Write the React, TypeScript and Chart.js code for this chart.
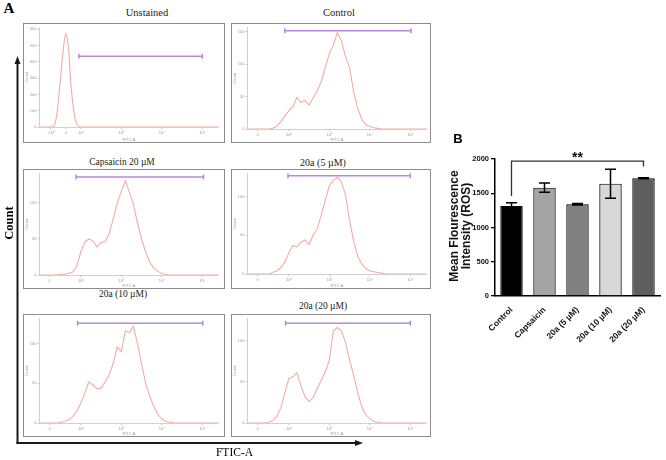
import React, { useEffect, useRef } from "react";
import { Chart, registerables } from "chart.js";

Chart.register(...registerables);

// ---------- Panel A: flow cytometry histograms (x in display decades) ----------
const histU = [1.0, 1.1, 1.2, 1.3, 1.4, 1.5, 1.6, 1.7, 1.8, 1.9, 2.0, 2.1, 2.2, 2.3, 2.4, 2.5, 2.6, 2.7, 2.8, 2.9, 3.0, 3.1, 3.2, 3.3, 3.4, 3.5, 3.6, 3.7, 3.8, 3.9, 4.0, 4.1, 4.2, 4.3, 4.4, 4.5, 4.6, 4.7, 4.8, 4.9, 5.0, 5.1, 5.2, 5.3, 5.4];

const unstainedU = [1.0, 1.1, 1.2, 1.3, 1.35, 1.4, 1.45, 1.5, 1.55, 1.6, 1.63, 1.66, 1.7, 1.75, 1.8, 1.85, 1.9, 1.95, 2.0, 2.2, 2.5, 3.0, 3.5, 4.0, 4.5, 5.0, 5.4];
const unstainedCounts = [0, 0, 0, 2, 8, 60, 170, 300, 440, 545, 572, 555, 480, 270, 150, 60, 18, 4, 1, 0, 0, 0, 0, 0, 0, 0, 0];

const controlCounts = [0, 0, 0, 0, 0, 0, 1, 4, 11, 20, 28, 34, 49, 41, 44, 37, 48, 59, 73, 95, 116, 130, 149, 136, 112, 95, 58, 32, 15, 7, 4, 2, 1, 0, 0, 0, 0, 0, 0, 0, 0, 0, 0, 0, 0];
const capsaicinCounts = [0, 0, 0, 0, 0, 1, 1, 2, 4, 12, 32, 46, 50, 47, 39, 45, 46, 57, 78, 100, 116, 131, 115, 98, 72, 50, 32, 18, 10, 5, 2, 1, 0, 0, 0, 0, 0, 0, 0, 0, 0, 0, 0, 0, 0];
const dose5Counts = [0, 0, 0, 0, 0, 0, 2, 4, 8, 15, 27, 37, 35, 41, 44, 38, 50, 58, 76, 95, 114, 121, 125, 119, 102, 70, 43, 23, 13, 7, 4, 3, 2, 1, 0, 0, 0, 0, 0, 0, 0, 0, 0, 0, 0];
const dose10Counts = [0, 0, 0, 0, 0, 1, 2, 4, 8, 15, 25, 38, 52, 48, 43, 44, 52, 61, 75, 96, 90, 116, 114, 122, 100, 75, 50, 34, 21, 11, 5, 2, 1, 0, 0, 0, 0, 0, 0, 0, 0, 0, 0, 0, 0];
const dose20Counts = [0, 0, 0, 0, 0, 1, 3, 8, 18, 36, 54, 56, 61, 45, 32, 26, 31, 42, 52, 62, 76, 112, 116, 112, 98, 77, 58, 37, 20, 10, 5, 2, 1, 0, 0, 0, 0, 0, 0, 0, 0, 0, 0, 0, 0];

const panelTitles = ["Unstained", "Control", "Capsaicin 20 µM", "20a (5 µM)", "20a (10 µM)", "20a (20 µM)"];
const panelYMax = [612, 157, 141, 130, 132, 127];
const panelYStep = [100, 50, 50, 50, 50, 50];
const gateStart = [1.95, 1.9, 1.88, 1.98, 1.92, 1.92];
const gateEnd = [5.0, 5.02, 5.03, 5.0, 5.01, 5.0];
const gateLevel = [434, 152, 136, 127, 126, 121];

const stainedTickPos = [1.23, 2, 3, 4, 5];
const stainedTickLabels = ["0", "10²", "10³", "10⁴", "10⁵"];
const unstainedTickPos = [1.26, 1.63, 2, 3, 4, 5];
const unstainedTickLabels = ["-10²", "0", "10²", "10³", "10⁴", "10⁵"];

// ---------- Panel B: bar chart ----------
const barLabels = ["Control", "Capsaicin", "20a (5 µM)", "20a (10 µM)", "20a (20 µM)"];
const barMeans = [1315, 1582, 1340, 1640, 1720];
const barErrors = [45, 66, 12, 212, 8];
const bracketFrom = 0;
const bracketTo = 4;
const bracketTop = 1970;
const bracketLegLeft = 1460;
const bracketLegRight = 1890;

// ---------- layout / style ----------
const SERIF = "'Liberation Serif', 'Times New Roman', serif";
const SANS = "'Liberation Sans', Arial, sans-serif";
const LINE_COLOR = "#f5aca1";
const GATE_COLOR = "#b58ad9";
const barColors = ["#000000", "#a4a4a4", "#808080", "#d8d8d8", "#5e5e5e"];

type PanelCfg = {
  title: string;
  u: number[];
  counts: number[];
  yMax: number;
  yStep: number;
  gate: [number, number, number];
  tickPos: number[];
  tickLabels: string[];
  box: [number, number, number, number];
  axisH: number;
  titleAt: [number, number];
  titleSize: number;
};

const boxes: [number, number, number, number][] = [
  [23, 23, 202, 120],
  [231, 23, 200, 120],
  [23, 169, 202, 120],
  [231, 169, 200, 120],
  [23, 314, 202, 123],
  [231, 314, 200, 123],
];
const axisHeights = [15, 13, 13, 14, 13, 13];
const titlePositions: [number, number][] = [
  [147, 13],
  [339, 12.5],
  [122, 162.5],
  [323, 163],
  [123, 295],
  [323, 307],
];
const titleSizes = [10.5, 10.5, 9.5, 10, 9.5, 9.5];
const seriesList = [unstainedCounts, controlCounts, capsaicinCounts, dose5Counts, dose10Counts, dose20Counts];

const panels: PanelCfg[] = panelTitles.map((t, i) => ({
  title: t,
  u: i === 0 ? unstainedU : histU,
  counts: seriesList[i],
  yMax: panelYMax[i],
  yStep: panelYStep[i],
  gate: [gateStart[i], gateEnd[i], gateLevel[i]],
  tickPos: i === 0 ? unstainedTickPos : stainedTickPos,
  tickLabels: i === 0 ? unstainedTickLabels : stainedTickLabels,
  box: boxes[i],
  axisH: axisHeights[i],
  titleAt: titlePositions[i],
  titleSize: titleSizes[i],
}));

function Histogram({ cfg }: { cfg: PanelCfg }) {
  const ref = useRef<HTMLCanvasElement>(null);
  const [bx, by, bw, bh] = cfg.box;
  const cw = bw - 2;
  const ch = bh - 2;
  useEffect(() => {
    const canvas = ref.current!;
    const gatePlugin = {
      id: "gate",
      afterDatasetsDraw(chart: any) {
        const { ctx } = chart;
        const xs = chart.scales.x;
        const ys = chart.scales.y;
        const x0 = xs.getPixelForValue(cfg.gate[0]);
        const x1 = xs.getPixelForValue(cfg.gate[1]);
        const yy = ys.getPixelForValue(cfg.gate[2]);
        ctx.save();
        ctx.strokeStyle = GATE_COLOR;
        ctx.lineWidth = 1.5;
        ctx.beginPath();
        ctx.moveTo(x0, yy);
        ctx.lineTo(x1, yy);
        ctx.moveTo(x0, yy - 2.5);
        ctx.lineTo(x0, yy + 2.5);
        ctx.moveTo(x1, yy - 2.5);
        ctx.lineTo(x1, yy + 2.5);
        ctx.stroke();
        ctx.restore();
      },
    };
    const tickFont = { size: 4, family: SANS };
    const chart = new Chart(canvas, {
      type: "line",
      data: {
        datasets: [
          {
            data: cfg.u.map((u, i) => ({ x: u, y: cfg.counts[i] })),
            borderColor: LINE_COLOR,
            borderWidth: 1.1,
            pointRadius: 0,
            tension: 0,
            fill: false,
          },
        ],
      },
      options: {
        animation: false,
        responsive: false,
        maintainAspectRatio: false,
        events: [],
        layout: { padding: { top: 2, right: cw - 15.5 - 179, left: 0, bottom: 0 } },
        plugins: { legend: { display: false }, tooltip: { enabled: false } },
        scales: {
          x: {
            type: "linear",
            min: 0.98,
            max: 5.4,
            afterBuildTicks: (axis: any) => {
              axis.ticks = cfg.tickPos.map((v) => ({ value: v }));
            },
            afterFit: (axis: any) => {
              axis.height = cfg.axisH;
            },
            ticks: {
              autoSkip: false,
              maxRotation: 0,
              font: tickFont,
              color: "#9a9a9a",
              padding: 1,
              callback: (v: any) => {
                const k = cfg.tickPos.indexOf(Number(v));
                return k >= 0 ? cfg.tickLabels[k] : "";
              },
            },
            grid: { drawOnChartArea: false, tickLength: 2, color: "#c8c8c8" },
            border: { color: "#d0d0d0" },
            title: { display: true, text: "FITC-A", font: tickFont, color: "#9a9a9a", padding: 0 },
          },
          y: {
            min: 0,
            max: cfg.yMax,
            afterFit: (axis: any) => {
              axis.width = 15.5;
            },
            ticks: { stepSize: cfg.yStep, includeBounds: false, font: tickFont, color: "#9a9a9a", padding: 1, callback: (v: any) => String(v) },
            grid: { drawOnChartArea: false, tickLength: 2, color: "#c8c8c8" },
            border: { color: "#d0d0d0" },
            title: { display: true, text: "Count", font: tickFont, color: "#9a9a9a", padding: 0 },
          },
        },
      } as any,
      plugins: [gatePlugin],
    });
    return () => chart.destroy();
  }, []);
  return (
    <>
      <div
        style={{
          position: "absolute",
          left: cfg.titleAt[0],
          top: cfg.titleAt[1],
          transform: "translate(-50%, -50%)",
          fontFamily: SERIF,
          fontSize: cfg.titleSize,
          lineHeight: 1,
          whiteSpace: "nowrap",
          color: "#222",
        }}
      >
        {cfg.title}
      </div>
      <div
        style={{
          position: "absolute",
          left: bx,
          top: by,
          width: bw,
          height: bh,
          boxSizing: "border-box",
          border: "1px solid #8c8c8c",
          background: "#fff",
        }}
      >
        <canvas ref={ref} width={cw} height={ch} style={{ position: "absolute", left: 0, top: 0, width: cw, height: ch }} />
      </div>
    </>
  );
}

function BarPanel() {
  const ref = useRef<HTMLCanvasElement>(null);
  useEffect(() => {
    const canvas = ref.current!;
    const errPlugin = {
      id: "errbars",
      afterDatasetsDraw(chart: any) {
        const { ctx } = chart;
        const ys = chart.scales.y;
        const meta = chart.getDatasetMeta(0);
        ctx.save();
        ctx.strokeStyle = "#000";
        ctx.lineWidth = 1.5;
        meta.data.forEach((el: any, i: number) => {
          const x = el.x;
          const t = ys.getPixelForValue(barMeans[i] + barErrors[i]);
          const b = ys.getPixelForValue(barMeans[i] - barErrors[i]);
          ctx.beginPath();
          ctx.moveTo(x, t);
          ctx.lineTo(x, b);
          ctx.moveTo(x - 5.5, t);
          ctx.lineTo(x + 5.5, t);
          ctx.moveTo(x - 5.5, b);
          ctx.lineTo(x + 5.5, b);
          ctx.stroke();
        });
        ctx.restore();
      },
    };
    const bracketPlugin = {
      id: "bracket",
      afterDraw(chart: any) {
        const { ctx } = chart;
        const xs = chart.scales.x;
        const ys = chart.scales.y;
        const xa = xs.getPixelForValue(bracketFrom);
        const xb = xs.getPixelForValue(bracketTo);
        const yt = ys.getPixelForValue(bracketTop);
        ctx.save();
        ctx.strokeStyle = "#333";
        ctx.lineWidth = 1.3;
        ctx.beginPath();
        ctx.moveTo(xa, ys.getPixelForValue(bracketLegLeft));
        ctx.lineTo(xa, yt);
        ctx.lineTo(xb, yt);
        ctx.lineTo(xb, ys.getPixelForValue(bracketLegRight));
        ctx.stroke();
        ctx.fillStyle = "#111";
        ctx.font = `bold 14px ${SANS}`;
        ctx.textAlign = "center";
        ctx.textBaseline = "alphabetic";
        ctx.fillText("**", (xa + xb) / 2, yt + 0.5);
        ctx.restore();
      },
    };
    const chart = new Chart(canvas, {
      type: "bar",
      data: {
        labels: barLabels,
        datasets: [
          {
            data: barMeans,
            backgroundColor: barColors,
            borderColor: "#000",
            borderWidth: 1.2,
            categoryPercentage: 1,
            barPercentage: 0.68,
          },
        ],
      },
      options: {
        animation: false,
        responsive: false,
        maintainAspectRatio: false,
        events: [],
        layout: { padding: { top: 49, right: 6, left: 0, bottom: 0 } },
        plugins: { legend: { display: false }, tooltip: { enabled: false } },
        scales: {
          x: {
            afterFit: (axis: any) => {
              axis.height = 64;
            },
            ticks: {
              autoSkip: false,
              minRotation: 45,
              maxRotation: 45,
              padding: 1,
              color: "#111",
              font: { family: SANS, weight: "bold", size: 8.5 },
            },
            grid: { display: false },
            border: { color: "#000", width: 1.5 },
          },
          y: {
            min: 0,
            max: 2000,
            afterFit: (axis: any) => {
              axis.width = 55;
            },
            ticks: { stepSize: 500, padding: 2, color: "#111", font: { family: SANS, weight: "bold", size: 7.5 }, callback: (v: any) => String(v) },
            grid: { drawOnChartArea: false, tickLength: 4, color: "#000", lineWidth: 1.3 },
            border: { color: "#000", width: 1.5 },
          },
        },
      } as any,
      plugins: [errPlugin, bracketPlugin],
    });
    return () => chart.destroy();
  }, []);
  return (
    <>
      <canvas ref={ref} width={226} height={250} style={{ position: "absolute", left: 440, top: 110, width: 226, height: 250 }} />
      <div style={{ position: "absolute", left: 458, top: 138, transform: "translate(-50%, -50%)", fontFamily: SANS, fontWeight: "bold", fontSize: 13, lineHeight: 1 }}>B</div>
      <div style={{ position: "absolute", left: 453.5, top: 226, transform: "translate(-50%, -50%) rotate(-90deg)", fontFamily: SANS, fontWeight: "bold", fontSize: 12, lineHeight: 1, whiteSpace: "nowrap", color: "#111" }}>
        Mean Flourescence
      </div>
      <div style={{ position: "absolute", left: 466, top: 226, transform: "translate(-50%, -50%) rotate(-90deg)", fontFamily: SANS, fontWeight: "bold", fontSize: 12, lineHeight: 1, whiteSpace: "nowrap", color: "#111" }}>
        Intensity (ROS)
      </div>
    </>
  );
}

export default function App() {
  return (
    <div style={{ position: "absolute", left: 0, top: 0, width: 666, height: 460, background: "#fff", overflow: "hidden" }}>
      <div style={{ position: "absolute", left: 9, top: 8, transform: "translate(-50%, -50%)", fontFamily: SERIF, fontWeight: "bold", fontSize: 15, lineHeight: 1 }}>A</div>
      {panels.map((p, i) => (
        <Histogram key={i} cfg={p} />
      ))}
      <svg width={666} height={460} style={{ position: "absolute", left: 0, top: 0, pointerEvents: "none" }}>
        <line x1={17.5} y1={444} x2={17.5} y2={63} stroke="#1a1a1a" strokeWidth={2} />
        <polygon points="17.5,56 14.5,64 20.5,64" fill="#1a1a1a" />
        <line x1={16.5} y1={443} x2={356} y2={443} stroke="#1a1a1a" strokeWidth={2} />
        <polygon points="363,443 355,440 355,446" fill="#1a1a1a" />
      </svg>
      <div style={{ position: "absolute", left: 9, top: 223, transform: "translate(-50%, -50%) rotate(-90deg)", fontFamily: SERIF, fontWeight: "bold", fontSize: 12.5, lineHeight: 1, whiteSpace: "nowrap" }}>
        Count
      </div>
      <div style={{ position: "absolute", left: 234.5, top: 453, transform: "translate(-50%, -50%)", fontFamily: SERIF, fontSize: 11.5, lineHeight: 1, whiteSpace: "nowrap" }}>
        FTIC-A
      </div>
      <BarPanel />
    </div>
  );
}
